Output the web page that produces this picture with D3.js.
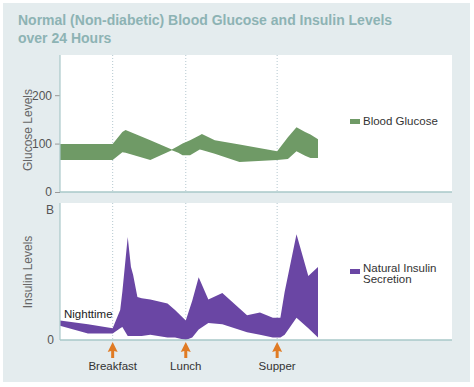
<!DOCTYPE html>
<html lang="en">
<head>
    <meta charset="UTF-8">
    <title>Blood Glucose and Insulin</title>
    <script src="https://cdn.jsdelivr.net/npm/d3@7"></script>
    <style>
        body { margin: 0; background: #fff; }
        text { font-family: "Liberation Sans", Arial, sans-serif; }
    </style>
</head>
<body>
<script>

    // hours over the day (0 = left edge of the band, 24 = right edge)
    var glucoseHours = [0, 4.9, 5.8, 6.1, 8.4, 10.4, 11.0, 11.4, 12.1, 13.0, 13.2, 14.4, 16.7, 20.2, 21.2, 22.0, 22.8, 23.3, 24];
    var glucoseHigh  = [99, 99, 124, 128, 107, 88, 95, 100, 107, 117, 120, 107, 98, 84, 113, 134, 124, 119, 109];
    var glucoseLow   = [66, 66, 82, 81, 66, 86, 81, 76, 76, 88, 87, 79, 62, 66, 68, 84, 75, 70, 70];

    var insulinHours = [0, 2.6, 4.9, 5.6, 5.8, 6.3, 6.6, 6.8, 7.2, 7.6, 8.4, 10.0, 10.7, 11.7, 12.3, 12.9, 13.8, 15.1, 17.4, 18.6, 19.8, 20.2, 20.5, 20.9, 22.0, 23.1, 24];
    var insulinHigh  = [15, 12, 9, 23, 37, 79, 56, 50, 33, 32, 31, 28, 23, 15, 30, 48, 31, 36, 19, 21, 17, 17, 17, 37, 81, 49, 56];
    var insulinLow   = [11, 5, 5, 9, 10, 3, 3, 3, 3, 3, 4, 2, 2, 0, 2, 8, 13, 12, 6, 4, 2, 2, 2, 4, 17, 9, 2];

    var meals = ["Breakfast", "Lunch", "Supper"];
    var mealHours = [4.9, 11.7, 20.2];

    var glucoseTicks = [0, 100, 200];
    var insulinTicks = [0, 100];
    var insulinTickLabels = ["0", "B"];

    var W = 474, H = 387;
    var left = 60, right = 452;
    var gTop = 55, gBottom = 192;
    var iTop = 203, iBottom = 340;
    var small = "11.5px";

    var svg = d3.select("body").append("svg")
        .attr("width", W)
        .attr("height", H);

    // background panel
    svg.append("rect")
        .attr("x", 3).attr("y", 3)
        .attr("width", 467).attr("height", 379)
        .attr("fill", "#e4ecee");

    // title
    var title = svg.append("text")
        .attr("x", 18).attr("y", 25)
        .attr("fill", "#8db3b4")
        .attr("font-size", "14px")
        .attr("font-weight", "bold");
    title.append("tspan").attr("x", 18).attr("dy", 0).text("Normal (Non-diabetic) Blood Glucose and Insulin Levels");
    title.append("tspan").attr("x", 18).attr("dy", 18).text("over 24 Hours");

    // x scale: 24 hours over the band width
    var x = d3.scaleLinear().domain([0, 24]).range([left, 318]);

    var yG = d3.scaleLinear().domain([0, 283]).range([gBottom, gTop]);
    var yI = d3.scaleLinear().domain([0, 105]).range([iBottom, iTop]);

    // white plot areas
    [[gTop, gBottom], [iTop, iBottom]].forEach(function (p) {
        svg.append("rect")
            .attr("x", left).attr("y", p[0])
            .attr("width", right - left).attr("height", p[1] - p[0])
            .attr("fill", "#ffffff");
    });

    // dotted meal lines
    [[gTop, gBottom], [iTop, iBottom]].forEach(function (p) {
        svg.selectAll(null)
            .data(mealHours)
            .enter()
            .append("line")
            .attr("x1", function (d) { return x(d); })
            .attr("x2", function (d) { return x(d); })
            .attr("y1", p[0]).attr("y2", p[1])
            .attr("stroke", "#b4c8cf")
            .attr("stroke-width", 1)
            .attr("stroke-dasharray", "1,2");
    });

    // glucose band
    var gData = glucoseHours.map(function (h, i) {
        return {h: h, hi: glucoseHigh[i], lo: glucoseLow[i]};
    });
    svg.append("path")
        .datum(gData)
        .attr("fill", "#6f9a66")
        .attr("d", d3.area()
            .x(function (d) { return x(d.h); })
            .y0(function (d) { return yG(d.lo); })
            .y1(function (d) { return yG(d.hi); }));

    // insulin band
    var iData = insulinHours.map(function (h, i) {
        return {h: h, hi: insulinHigh[i], lo: insulinLow[i]};
    });
    svg.append("path")
        .datum(iData)
        .attr("fill", "#6a46a4")
        .attr("d", d3.area()
            .x(function (d) { return x(d.h); })
            .y0(function (d) { return yI(d.lo); })
            .y1(function (d) { return yI(d.hi); }));

    // axes
    var axisColor = "#a9c8c9";
    var gAxis = svg.append("g")
        .attr("transform", "translate(" + left + ",0)")
        .call(d3.axisLeft(yG).tickValues(glucoseTicks).tickSize(5).tickPadding(3));
    var iAxis = svg.append("g")
        .attr("transform", "translate(" + left + ",0)")
        .call(d3.axisLeft(yI).tickValues(insulinTicks).tickSize(0).tickPadding(6)
            .tickFormat(function (d, i) { return insulinTickLabels[i]; }));
    [gAxis, iAxis].forEach(function (a) {
        a.select(".domain").remove();
        a.selectAll(".tick line").attr("stroke", "#999");
        a.selectAll(".tick text")
            .attr("fill", "#555")
            .attr("font-size", "12px")
            .attr("font-family", "Liberation Sans, Arial, sans-serif");
    });

    // axis lines
    [[gTop, gBottom], [iTop, iBottom]].forEach(function (p) {
        svg.append("line")
            .attr("x1", left).attr("x2", left)
            .attr("y1", p[0]).attr("y2", p[1])
            .attr("stroke", axisColor).attr("stroke-width", 1.2);
        svg.append("line")
            .attr("x1", left).attr("x2", right)
            .attr("y1", p[1]).attr("y2", p[1])
            .attr("stroke", axisColor).attr("stroke-width", 1.5);
    });

    // axis titles
    svg.append("text")
        .attr("transform", "translate(32,130) rotate(-90)")
        .attr("text-anchor", "middle")
        .attr("font-size", "12px")
        .attr("fill", "#666")
        .text("Glucose Levels");
    svg.append("text")
        .attr("transform", "translate(32,272) rotate(-90)")
        .attr("text-anchor", "middle")
        .attr("font-size", "12px")
        .attr("fill", "#666")
        .text("Insulin Levels");

    // Nighttime label
    svg.append("text")
        .attr("x", 64).attr("y", 318)
        .attr("font-size", small)
        .attr("fill", "#222")
        .text("Nighttime");

    // meal arrows and labels
    var meal = svg.selectAll(".meal")
        .data(mealHours)
        .enter()
        .append("g")
        .attr("class", "meal")
        .attr("transform", function (d) { return "translate(" + x(d) + ",0)"; });
    meal.append("path")
        .attr("d", "M0,342 L-5,352 L-1.5,351 L-1.5,358 L1.5,358 L1.5,351 L5,352 Z")
        .attr("fill", "#e07b24");
    meal.append("text")
        .attr("y", 370)
        .attr("text-anchor", "middle")
        .attr("font-size", small)
        .attr("fill", "#333")
        .text(function (d, i) { return meals[i]; });

    // legends
    svg.append("rect")
        .attr("x", 350).attr("y", 119).attr("width", 10).attr("height", 5)
        .attr("fill", "#6f9a66");
    svg.append("text")
        .attr("x", 363).attr("y", 125)
        .attr("font-size", small).attr("fill", "#333")
        .text("Blood Glucose");

    svg.append("rect")
        .attr("x", 350).attr("y", 269).attr("width", 10).attr("height", 5)
        .attr("fill", "#6a46a4");
    var lt = svg.append("text")
        .attr("x", 363).attr("y", 272)
        .attr("font-size", small).attr("fill", "#333");
    lt.append("tspan").attr("x", 363).text("Natural Insulin");
    lt.append("tspan").attr("x", 363).attr("dy", 11).text("Secretion");

</script>
</body>
</html>
